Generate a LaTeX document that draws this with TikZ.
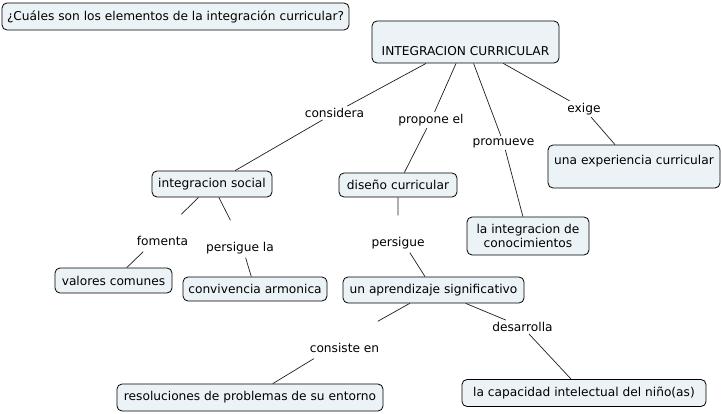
\documentclass[tikz,border=0pt]{standalone}
\usepackage{fontspec}
\setmainfont{DejaVu Sans}
\definecolor{boxfill}{RGB}{236,243,246}
\definecolor{linec}{RGB}{30,30,30}
\tikzset{
  concept/.style={draw=black, line width=0.8pt, rounded corners=5pt, fill=boxfill,
    inner xsep=5pt, inner ysep=3pt, align=center,
    font=\fontsize{12.2}{14}\selectfont},
  linkw/.style={inner sep=2pt, align=center, font=\fontsize{12.2}{14}\selectfont},
  conn/.style={draw=linec, line width=0.7pt}
}
\begin{document}
\begin{tikzpicture}[x=1pt,y=-1pt]
\useasboundingbox[fill=white] (0,0) rectangle (722,414);
% concepts
\node[concept, minimum width=345pt, minimum height=27pt] (title) at (175.5,16.5) {¿Cuáles son los elementos de la integración curricular?};
\node[concept, minimum width=187pt, minimum height=42pt] (ic) at (465.5,42) {\strut\\[8pt]INTEGRACION CURRICULAR\strut};
\node[concept, minimum width=172pt, minimum height=43pt] (exp) at (634,166.5) {\strut una experiencia curricular\strut\\[-4pt]\strut};
\node[concept, minimum width=120pt, minimum height=26pt] (is) at (212,184) {integracion social};
\node[concept, minimum width=118pt, minimum height=24pt] (dc) at (398,185) {diseño curricular};
\node[concept, minimum width=122pt, minimum height=38pt] (lic) at (528,236) {la integracion de\\conocimientos};
\node[concept, minimum width=117pt, minimum height=25pt] (vc) at (113.5,280.5) {valores comunes};
\node[concept, minimum width=144pt, minimum height=24pt] (ca) at (255,289) {convivencia armonica};
\node[concept, minimum width=181pt, minimum height=26pt] (as) at (433.5,290) {un aprendizaje significativo};
\node[concept, minimum width=266pt, minimum height=27pt] (rp) at (250,397.5) {resoluciones de problemas de su entorno};
\node[concept, minimum width=244pt, minimum height=27pt] (cap) at (584,393) {la capacidad intelectual del niño(as)};
% linking phrases
\node[linkw] (considera) at (334.5,113) {considera};
\node[linkw] (propone) at (431,120) {propone el};
\node[linkw] (promueve) at (503.5,143) {promueve};
\node[linkw] (exige) at (584,109) {exige};
\node[linkw] (fomenta) at (162.5,233) {\strut\\[5pt]fomenta\strut};
\node[linkw] (persla) at (240,239) {\strut\\[5pt]persigue la\strut};
\node[linkw] (persigue) at (398,234) {\strut\\[5pt]persigue\strut};
\node[linkw] (consiste) at (344.5,340) {\strut\\[5pt]consiste en\strut};
\node[linkw] (desarrolla) at (522.5,327) {desarrolla};
% connectors
\draw[conn] (ic) -- (considera) (considera) -- (is);
\draw[conn] (ic) -- (propone) (propone) -- (dc);
\draw[conn] (ic) -- (promueve) (promueve) -- (lic);
\draw[conn] (ic) -- (exige) (exige) -- (exp);
\draw[conn] (is) -- (fomenta) (fomenta) -- (vc);
\draw[conn] (is) -- (persla) (persla) -- (ca);
\draw[conn] (dc) -- (persigue) (persigue) -- (as);
\draw[conn] (as) -- (consiste) (consiste) -- (rp);
\draw[conn] (as) -- (desarrolla) (desarrolla) -- (cap);
\end{tikzpicture}
\end{document}
